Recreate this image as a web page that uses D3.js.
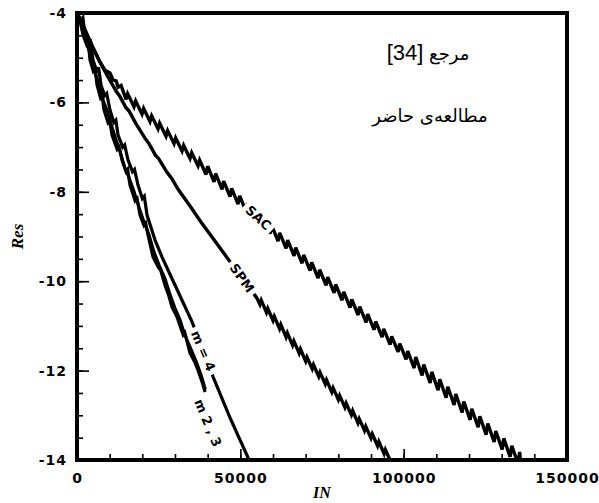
<!DOCTYPE html>
<html>
<head>
<meta charset="utf-8">
<script src="https://cdn.jsdelivr.net/npm/d3@7"></script>
<style>
  html, body { margin: 0; padding: 0; background: #fff; }
  svg { display: block; }
</style>
</head>
<body>
<svg id="chart" width="599" height="503"></svg>
<script>
// ---------------- data (IN, Res) ----------------
const xDomain = [0, 150000];
const yDomain = [-14, -4];
const xMajorTicks = [0, 50000, 100000, 150000];
const yMajorTicks = [-4, -6, -8, -10, -12, -14];
const xLabel = "IN";
const yLabel = "Res";
const legendWord1 = "مرجع\u00A0";
const legendRef1 = "[34]";
const legendText2 = "مطالعه\u200Cی حاضر";

const sac = [
  [0,-4],[2450,-4.38],[4900,-4.78],[7050,-5.1],[8580,-5.28],[10100,-5.34],[11030,-5.5],[12000,-5.52],[12560,-5.66],[13500,-5.62],
  [15000,-5.931],[15500,-5.805],[17450,-6.096],[17950,-5.970],[19900,-6.261],[20400,-6.135],
  [22350,-6.427],[22850,-6.301],[24800,-6.592],[25300,-6.466],[27250,-6.757],[27750,-6.631],
  [29700,-6.923],[30200,-6.797],[32150,-7.088],[32650,-6.962],[34600,-7.254],[35100,-7.128],
  [37050,-7.419],[37550,-7.293],[39500,-7.614],[40000,-7.428],[41950,-7.780],[42450,-7.594],
  [44400,-7.945],[44900,-7.759],[46850,-8.110],[47350,-7.924],[49300,-8.276],[49800,-8.090],
  [51750,-8.441],[52250,-8.255],[54200,-8.607],[54700,-8.421],[56650,-8.772],[57150,-8.586],
  [59100,-8.937],[59600,-8.751],[61550,-9.103],[62050,-8.917],[64000,-9.268],[64500,-9.082],
  [66450,-9.433],[66950,-9.247],[68900,-9.599],[69400,-9.413],[71350,-9.764],[71850,-9.578],
  [73800,-9.930],[74300,-9.744],[76250,-10.095],[76750,-9.909],[78700,-10.260],[79200,-10.074],
  [81150,-10.426],[81650,-10.240],[83600,-10.591],[84100,-10.405],[86050,-10.756],[86550,-10.570],
  [88500,-10.922],[89000,-10.736],[90950,-11.087],[91450,-10.901],[93400,-11.253],[93900,-11.067],
  [95850,-11.418],[96350,-11.232],[98300,-11.583],[98800,-11.397],[100750,-11.749],[101250,-11.563],
  [103200,-11.944],[103700,-11.698],[105650,-12.109],[106150,-11.863],[108100,-12.275],[108600,-12.029],
  [110550,-12.440],[111050,-12.194],[113000,-12.606],[113500,-12.360],[115450,-12.771],[115950,-12.525],
  [117900,-12.936],[118400,-12.690],[120350,-13.102],[120850,-12.856],[122800,-13.267],[123300,-13.021],
  [125250,-13.432],[125750,-13.186],[127700,-13.598],[128200,-13.352],[130150,-13.763],[130650,-13.517],
  [132600,-13.929],[133100,-13.683],[135050,-14.09],[135500,-13.82],[135900,-14.15]
];

const spm = [
  [0,-4],[2450,-4.38],[4900,-4.78],[7050,-5.1],[9500,-5.43],[12000,-5.75],[13000,-5.85],[15000,-6.12],[16000,-6.2],[18000,-6.47],
  [20800,-6.80],[22000,-6.92],[24000,-7.18],[25000,-7.26],[27500,-7.56],[29000,-7.70],[31000,-7.95],[34600,-8.32],[38000,-8.68],[41500,-9.03],
  [45300,-9.41],[50000,-9.88],[55100,-10.38],
  [56000,-10.52],[56400,-10.43],[58000,-10.70],[58400,-10.61],[60000,-10.88],[60400,-10.79],
  [62000,-11.06],[62400,-10.97],[64000,-11.25],[64400,-11.16],[66000,-11.43],[66400,-11.34],
  [68000,-11.61],[68400,-11.52],[70000,-11.79],[70400,-11.70],[72000,-11.96],[72400,-11.87],
  [74000,-12.13],[74400,-12.04],[76000,-12.30],[76400,-12.21],[78000,-12.48],[78400,-12.39],
  [80000,-12.65],[80400,-12.56],[82000,-12.82],[82400,-12.73],[84000,-12.99],[84400,-12.90],
  [86000,-13.17],[86400,-13.08],[88000,-13.34],[88400,-13.25],[90000,-13.51],[90400,-13.42],
  [92000,-13.68],[92400,-13.59],[94000,-13.86],[94400,-13.77],[96000,-14.03]
];

const m4 = [
  [0,-4],[1200,-4.15],[1800,-4.1],[2450,-4.49],[3500,-4.7],[4200,-4.65],[4900,-5.05],[6000,-5.3],
  [6600,-5.22],[7350,-5.61],[8500,-5.85],[9100,-5.8],[10100,-6.17],[11300,-6.45],[11900,-6.4],
  [12560,-6.73],[14000,-7.0],[14600,-6.95],[15620,-7.29],[17000,-7.55],[17600,-7.5],[18680,-7.85],
  [20000,-8.15],[20600,-8.1],[21440,-8.52],[23890,-9.08],[26040,-9.46],[30020,-10.09],[35220,-10.91],
  [41660,-12.14],[46860,-13.06],[52680,-14.0]
];

const m2 = [
  [0,-4],[1000,-4.2],[1840,-4.49],[2900,-4.7],[3400,-4.62],[3980,-5.05],[5000,-5.3],[5500,-5.25],
  [6130,-5.61],[7200,-5.9],[7700,-5.85],[8270,-6.17],[9500,-6.45],[10000,-6.4],[10720,-6.73],
  [12300,-7.05],[12900,-7.0],[13780,-7.29],[15000,-7.55],[15500,-7.5],[16230,-7.85],[17800,-8.2],
  [18400,-8.15],[19300,-8.52],[20500,-8.75],[21000,-8.7],[21750,-8.97],[23280,-9.46],[25000,-9.7],
  [25600,-9.75],[26950,-10.09],[28000,-10.3],[29100,-10.58],[30630,-10.8],[32500,-11.2],[33000,-11.15],
  [34610,-11.61],[36000,-11.8],[37060,-11.99],[38500,-12.3],[39200,-12.48]
];

const m3 = [
  [0,-4],[1500,-4.3],[2400,-4.45],[3500,-4.8],[4500,-5.0],[5600,-5.35],[6800,-5.6],[8000,-5.95],
  [9300,-6.2],[10500,-6.5],[11800,-6.8],[13200,-7.1],[14600,-7.45],[16000,-7.7],[17500,-8.0],
  [19000,-8.35],[20400,-8.65],[22000,-8.95],[23600,-9.35],[25200,-9.65],[27000,-9.95],[28500,-10.3],
  [30000,-10.6],[31500,-10.85],[33000,-11.2],[34800,-11.5],[36500,-11.8],[38000,-12.1],[39300,-12.42]
];

// line labels: text, position (IN, Res), rotation in degrees
const lineLabels = [
  { text: "SAC",    at: [55500, -8.58],  angle: 42.7 },
  { text: "SPM",    at: [50500, -9.93],  angle: 54 },
  { text: "m = 4",  at: [38600, -11.56], angle: 67 },
  { text: "m 2 , 3",at: [40100, -13.17], angle: 67 }
];

// ---------------- drawing ----------------
const svg = d3.select("#chart");
const L = 77, R = 567, T = 13, B = 460;
const x = d3.scaleLinear().domain(xDomain).range([L, R]);
const y = d3.scaleLinear().domain(yDomain).range([B, T]);

svg.append("rect").attr("width", 599).attr("height", 503).attr("fill", "#fff");

svg.append("defs").append("clipPath").attr("id", "clip")
  .append("rect").attr("x", L).attr("y", T).attr("width", R - L).attr("height", B - T);

const line = d3.line().x(d => x(d[0])).y(d => y(d[1]));
const plot = svg.append("g").attr("clip-path", "url(#clip)");
[[sac, 3.4], [spm, 3.4], [m4, 3.2], [m2, 3.2], [m3, 3]].forEach(([s, w]) => {
  plot.append("path").datum(s).attr("d", line)
    .attr("fill", "none").attr("stroke", "#000").attr("stroke-width", w)
    .attr("stroke-linejoin", "miter").attr("stroke-miterlimit", 3);
});

// labels with white background
lineLabels.forEach(lb => {
  const g = svg.append("g")
    .attr("transform", `translate(${x(lb.at[0])},${y(lb.at[1])}) rotate(${lb.angle})`);
  const bg = g.append("rect").attr("fill", "#fff");
  const t = g.append("text").text(lb.text)
    .attr("text-anchor", "middle").attr("dominant-baseline", "central")
    .attr("font-family", "'DejaVu Sans', sans-serif").attr("font-weight", "bold")
    .attr("font-size", 13).attr("fill", "#000");
  const bb = t.node().getBBox();
  bg.attr("x", bb.x - 4).attr("y", bb.y + 1).attr("width", bb.width + 8).attr("height", bb.height - 2);
});

// axes
const fontTick = "'DejaVu Sans', sans-serif";
const yAxis = d3.axisLeft(y).tickValues(yMajorTicks).tickSize(-12).tickPadding(10).tickFormat(d => String(d));
const yMinor = d3.axisLeft(y).tickValues(d3.range(-14, -3.99, 0.5)).tickSize(-6).tickFormat("");
const xAxis = d3.axisBottom(x).tickValues(xMajorTicks).tickSize(-11).tickPadding(13).tickFormat(d => String(d));
const xMinor = d3.axisBottom(x).tickValues(d3.range(0, 150001, 10000)).tickSize(-6).tickFormat("");

function styleAxis(g) {
  g.select(".domain").remove();
  g.selectAll(".tick line").attr("stroke", "#000").attr("stroke-width", 1.6);
  g.selectAll(".tick text").attr("font-family", fontTick).attr("font-weight", "bold")
    .attr("font-size", 14).attr("fill", "#000").attr("letter-spacing", 1);
}
svg.append("g").attr("transform", `translate(${L},0)`).call(yMinor).call(styleAxis);
svg.append("g").attr("transform", `translate(${L},0)`).call(yAxis).call(styleAxis);
svg.append("g").attr("transform", `translate(0,${B})`).call(xMinor).call(styleAxis);
svg.append("g").attr("transform", `translate(0,${B})`).call(xAxis).call(styleAxis);

// frame
svg.append("rect").attr("x", L).attr("y", T).attr("width", R - L).attr("height", B - T)
  .attr("fill", "none").attr("stroke", "#000").attr("stroke-width", 4);

// axis titles
svg.append("text").text(xLabel).attr("x", (L + R) / 2).attr("y", 498)
  .attr("text-anchor", "middle").attr("font-family", "'Liberation Serif', serif")
  .attr("font-style", "italic").attr("font-weight", "bold").attr("font-size", 16);
svg.append("text").text(yLabel)
  .attr("transform", `translate(23,${(T + B) / 2}) rotate(-90)`)
  .attr("text-anchor", "middle").attr("font-family", "'Liberation Serif', serif")
  .attr("font-style", "italic").attr("font-weight", "bold").attr("font-size", 17);

// legend texts (Persian)
const lg1 = svg.append("text").attr("x", 428).attr("y", 60)
  .attr("direction", "rtl").attr("text-anchor", "middle")
  .attr("font-family", "'DejaVu Sans', sans-serif").attr("font-size", 18).attr("fill", "#000");
lg1.append("tspan").text(legendWord1);
lg1.append("tspan").text(legendRef1)
  .attr("font-family", "'Liberation Sans', sans-serif").attr("font-size", 22).attr("letter-spacing", 0.5);
svg.append("text").text(legendText2).attr("x", 430).attr("y", 122)
  .attr("direction", "rtl").attr("text-anchor", "middle")
  .attr("font-family", "'DejaVu Sans', sans-serif").attr("font-size", 18).attr("fill", "#000");
</script>
</body>
</html>
